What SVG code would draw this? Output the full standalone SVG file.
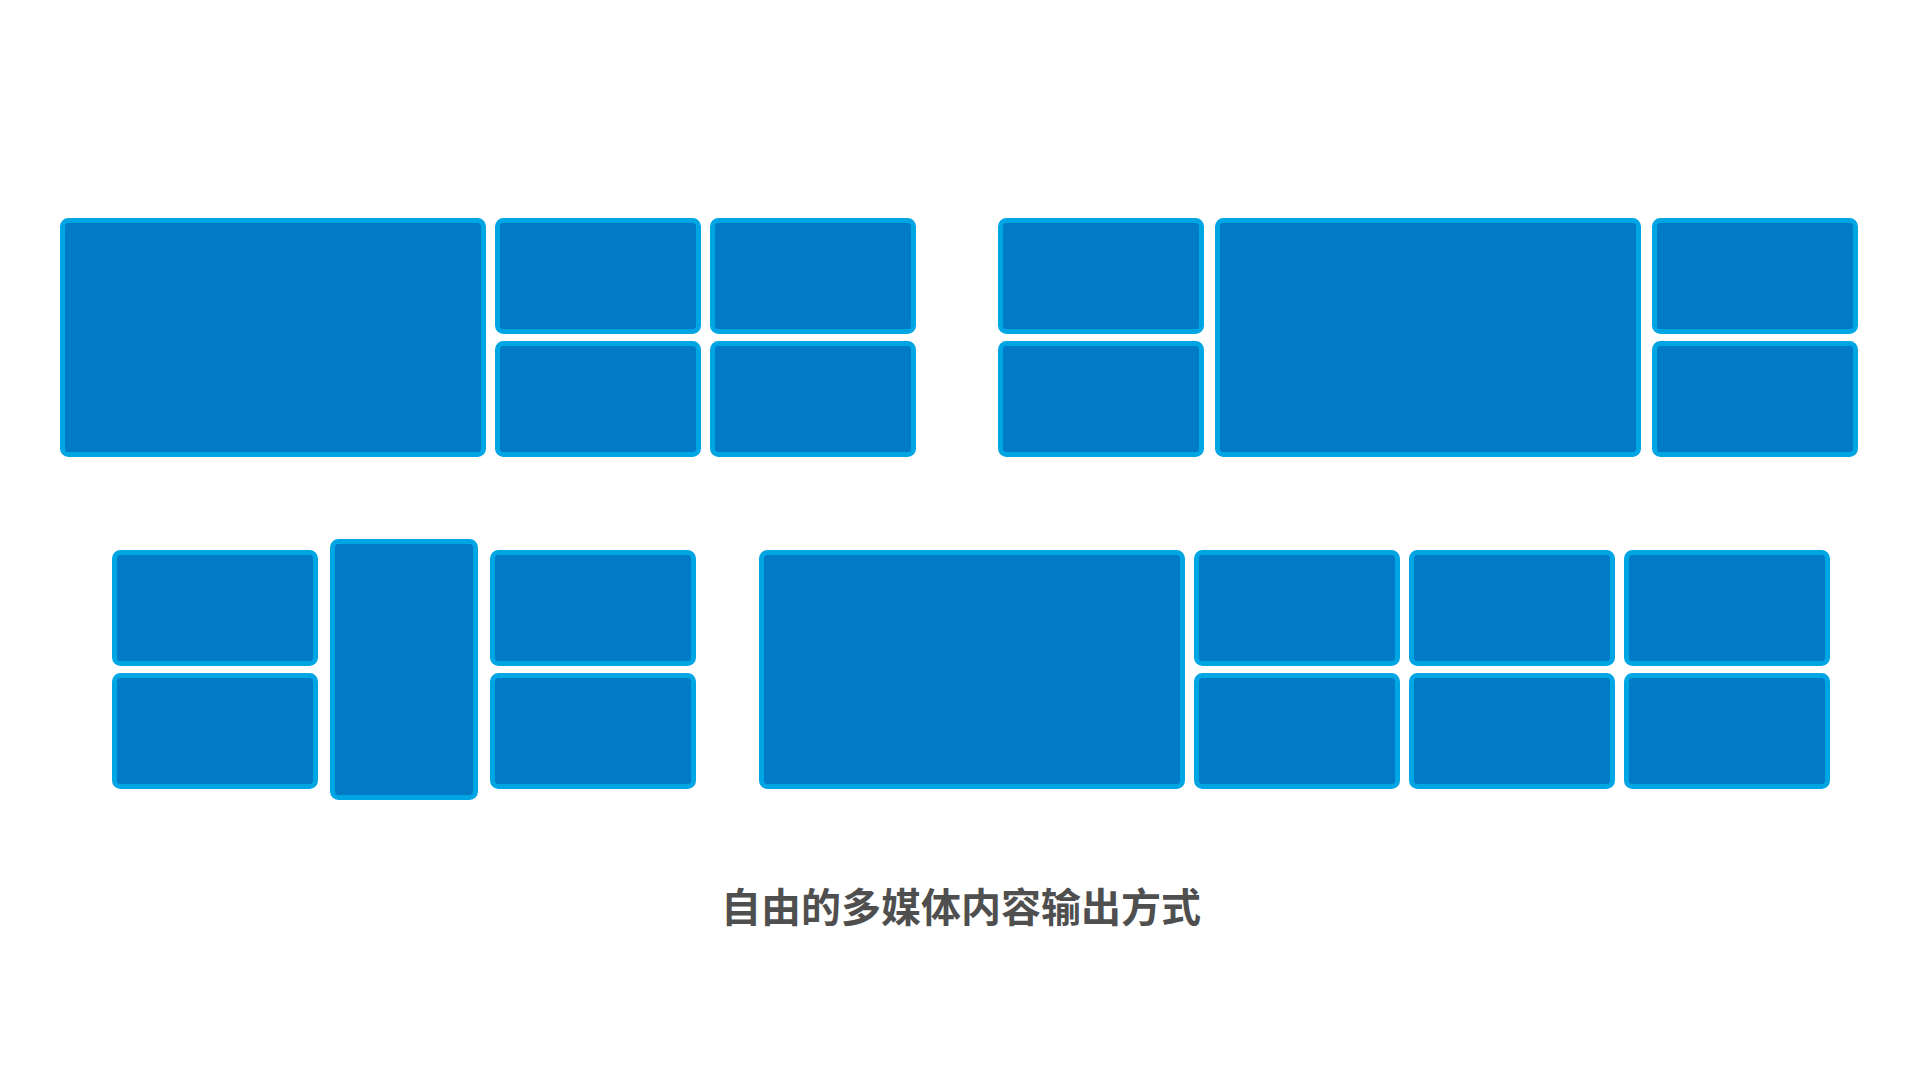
<svg xmlns="http://www.w3.org/2000/svg" width="1920" height="1080" viewBox="0 0 1920 1080">
<style>
.b{fill:#027BC7;stroke:#00A5E3;stroke-width:5}
.t{font-family:"Noto Sans CJK SC","Noto Sans",sans-serif;font-weight:bold;font-size:40px;fill:#4F4F4F}
</style>
<rect width="1920" height="1080" fill="#FFFFFF"/>
<g id="layout1">
<rect id="n1" class="b" x="62.5" y="220.5" width="421" height="234" rx="6"/>
<rect id="n2" class="b" x="497.5" y="220.5" width="201" height="111" rx="6"/>
<rect id="n3" class="b" x="712.5" y="220.5" width="201" height="111" rx="6"/>
<rect id="n4" class="b" x="497.5" y="343.5" width="201" height="111" rx="6"/>
<rect id="n5" class="b" x="712.5" y="343.5" width="201" height="111" rx="6"/>
</g>
<g id="layout2">
<rect id="n6" class="b" x="1000.5" y="220.5" width="201" height="111" rx="6"/>
<rect id="n7" class="b" x="1000.5" y="343.5" width="201" height="111" rx="6"/>
<rect id="n8" class="b" x="1217.5" y="220.5" width="421" height="234" rx="6"/>
<rect id="n9" class="b" x="1654.5" y="220.5" width="201" height="111" rx="6"/>
<rect id="n10" class="b" x="1654.5" y="343.5" width="201" height="111" rx="6"/>
</g>
<g id="layout3">
<rect id="n11" class="b" x="114.5" y="552.5" width="201" height="111" rx="6"/>
<rect id="n12" class="b" x="114.5" y="675.5" width="201" height="111" rx="6"/>
<rect id="n13" class="b" x="332.5" y="541.5" width="143" height="256" rx="6"/>
<rect id="n14" class="b" x="492.5" y="552.5" width="201" height="111" rx="6"/>
<rect id="n15" class="b" x="492.5" y="675.5" width="201" height="111" rx="6"/>
</g>
<g id="layout4">
<rect id="n16" class="b" x="761.5" y="552.5" width="421" height="234" rx="6"/>
<rect id="n17" class="b" x="1196.5" y="552.5" width="201" height="111" rx="6"/>
<rect id="n18" class="b" x="1196.5" y="675.5" width="201" height="111" rx="6"/>
<rect id="n19" class="b" x="1411.5" y="552.5" width="201" height="111" rx="6"/>
<rect id="n20" class="b" x="1411.5" y="675.5" width="201" height="111" rx="6"/>
<rect id="n21" class="b" x="1626.5" y="552.5" width="201" height="111" rx="6"/>
<rect id="n22" class="b" x="1626.5" y="675.5" width="201" height="111" rx="6"/>
</g>
<g id="connectors"/>
<text id="caption" class="t" x="961" y="922" text-anchor="middle">自由的多媒体内容输出方式</text>
</svg>
